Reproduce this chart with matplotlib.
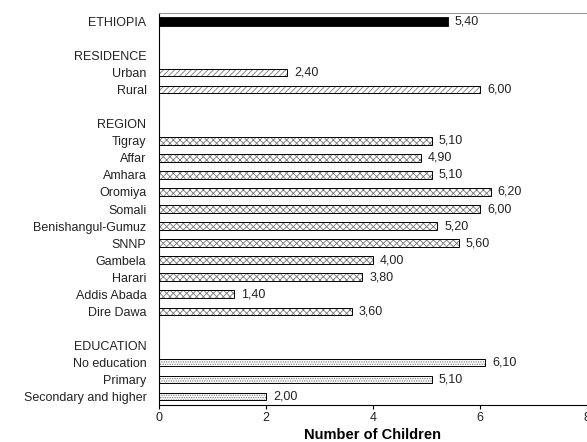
import matplotlib.pyplot as plt

plt.rcParams['font.family'] = ['Liberation Sans', 'DejaVu Sans']
plt.rcParams['hatch.linewidth'] = 0.6

# rows from top to bottom; None = no bar (header or spacer)
labels = ['ETHIOPIA', '', 'RESIDENCE', 'Urban', 'Rural', '', 'REGION',
          'Tigray', 'Affar', 'Amhara', 'Oromiya', 'Somali', 'Benishangul-Gumuz',
          'SNNP', 'Gambela', 'Harari', 'Addis Abada', 'Dire Dawa', '',
          'EDUCATION', 'No education', 'Primary', 'Secondary and higher']
values = [5.4, None, None, 2.4, 6.0, None, None,
          5.1, 4.9, 5.1, 6.2, 6.0, 5.2, 5.6, 4.0, 3.8, 1.4, 3.6, None,
          None, 6.1, 5.1, 2.0]
groups = ['total', None, None, 'res', 'res', None, None,
          'reg', 'reg', 'reg', 'reg', 'reg', 'reg', 'reg', 'reg', 'reg', 'reg', 'reg', None,
          None, 'edu', 'edu', 'edu']
xticks = [0, 2, 4, 6, 8]

hatches = {'res': '//////', 'reg': 'xxxxx', 'edu': '.......'}

fig = plt.figure(figsize=(5.87, 4.42), dpi=100)
ax = fig.add_axes([159 / 587, 1 - 405 / 442, 1 - 159 / 587, (405 - 13) / 442])

n = len(labels)
ypos = [n - 1 - i for i in range(n)]
for y, v, g in zip(ypos, values, groups):
    if v is None:
        continue
    if g == 'total':
        ax.barh(y, v, height=0.5, color='black', edgecolor='black', linewidth=0.6)
    else:
        # gray hatch first, then black outline on top
        ax.barh(y, v, height=0.44, color='white', edgecolor='#777777',
                hatch=hatches[g], linewidth=0)
        ax.barh(y, v, height=0.44, fill=False, edgecolor='black', linewidth=0.7)
    ax.text(v + 0.13, y, ('%.2f' % v).replace('.', ','), va='center', ha='left',
            fontsize=9, color='#222222')

ax.set_ylim(-0.5, n - 0.5)
ax.set_xlim(0, 8)
ax.set_yticks(ypos)
ax.set_yticklabels(labels, fontsize=9, color='#222222')
ax.tick_params(axis='y', length=0, pad=9)
ax.set_xticks(xticks)
ax.set_xticklabels([str(t) for t in xticks], fontsize=9, color='#222222')
ax.tick_params(axis='x', length=3, pad=2)
ax.set_xlabel('Number of Children', fontsize=10.5, fontweight='bold', labelpad=3)

ax.spines['right'].set_visible(False)
ax.spines['top'].set_color('#999999')
ax.spines['left'].set_linewidth(0.8)
ax.spines['bottom'].set_linewidth(0.8)

fig.savefig('out.png', dpi=100)
